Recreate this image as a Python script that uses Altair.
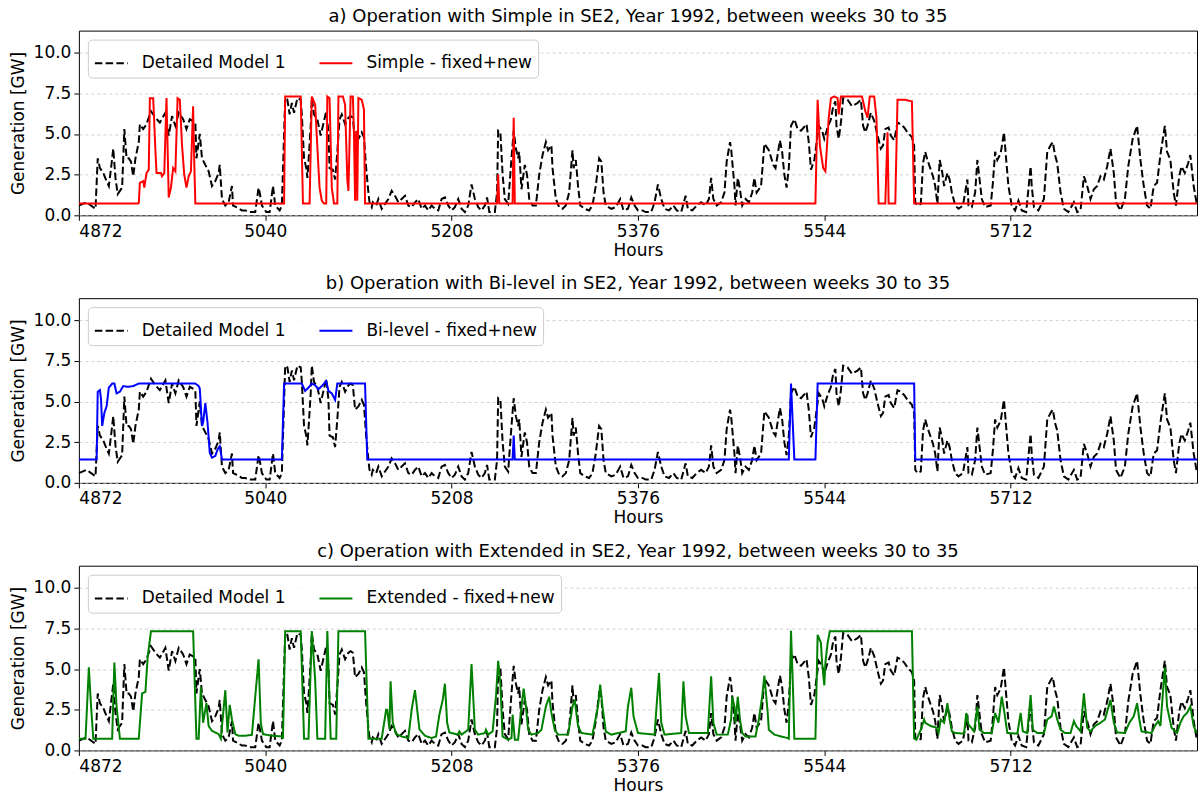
import altair as alt
import pandas as pd

FONT = "DejaVu Sans"
FS = 17
FS_TITLE = 18

X_RANGE = [4872, 5880]
Y_RANGE = [0, 11.35]
X_TICKS = [4872, 5040, 5208, 5376, 5544, 5712]
Y_TICKS = [0.0, 2.5, 5.0, 7.5, 10.0]

DETAILED_LABEL = "Detailed Model 1"

# Hourly generation [GW] of the detailed model, (hour, GW)
detailed = [
    (4872, 0.6), (4879, 0.8), (4887, 0.4), (4889, 3.5), (4891, 2.9), (4894, 2.6), (4897, 2.1),
    (4899, 1.8), (4901, 2.9), (4903, 4.1), (4905, 2.3), (4907, 1.3), (4909, 1.5), (4911, 1.7),
    (4913, 5.3), (4915, 3.5), (4917, 3.5), (4919, 3.3), (4921, 2.4), (4923, 3.5), (4926, 4.5),
    (4927, 5.6), (4930, 5.3), (4933, 5.6), (4937, 6.4), (4941, 6.0), (4945, 5.7), (4950, 6.3),
    (4953, 4.9), (4956, 6.1), (4959, 5.5), (4962, 6.3), (4966, 5.9), (4969, 5.3), (4972, 5.9),
    (4977, 5.7), (4978, 3.5), (4981, 5.0), (4983, 3.5), (4986, 3.1), (4989, 2.7), (4992, 1.8),
    (4995, 2.1), (4998, 2.6), (4999, 3.1), (5001, 1.0), (5004, 0.6), (5007, 0.8), (5010, 1.8),
    (5011, 0.6), (5014, 0.5), (5019, 0.3), (5022, 0.3), (5026, 0.2), (5031, 0.2), (5034, 1.7),
    (5035, 1.4), (5037, 0.6), (5041, 0.2), (5044, 0.2), (5047, 1.8), (5049, 0.6), (5053, 0.3),
    (5055, 0.6), (5058, 7.2), (5060, 7.1), (5062, 6.2), (5064, 6.9), (5066, 6.3), (5069, 7.2),
    (5072, 7.1), (5073, 6.2), (5075, 3.5), (5077, 2.9), (5078, 2.3), (5079, 3.3), (5081, 5.5),
    (5082, 7.2), (5084, 6.2), (5087, 5.9), (5090, 4.9), (5092, 5.5), (5095, 6.4), (5097, 5.1),
    (5098, 2.9), (5101, 2.8), (5103, 2.2), (5105, 3.9), (5107, 5.9), (5109, 6.2), (5112, 5.6),
    (5115, 6.0), (5117, 6.1), (5119, 6.0), (5121, 4.5), (5124, 4.7), (5127, 5.1), (5129, 4.8),
    (5131, 2.9), (5133, 1.4), (5134, 0.8), (5136, 0.5), (5137, 0.8), (5140, 0.6), (5142, 1.0),
    (5145, 0.4), (5148, 0.7), (5151, 1.0), (5154, 1.5), (5157, 1.2), (5160, 0.8), (5163, 1.0),
    (5166, 1.2), (5169, 0.6), (5172, 0.5), (5175, 0.8), (5178, 1.0), (5181, 0.4), (5184, 0.6),
    (5187, 0.3), (5190, 0.6), (5193, 0.4), (5196, 0.3), (5199, 1.0), (5202, 1.1), (5205, 0.6),
    (5208, 0.3), (5211, 0.5), (5214, 1.0), (5217, 0.4), (5220, 0.2), (5223, 0.6), (5226, 1.9),
    (5229, 1.0), (5232, 0.5), (5235, 0.3), (5238, 0.6), (5240, 1.1), (5242, 0.2), (5247, 0.2),
    (5249, 1.4), (5250, 5.2), (5252, 5.1), (5254, 2.5), (5256, 1.0), (5259, 0.7), (5262, 3.5),
    (5264, 5.2), (5266, 4.1), (5268, 3.5), (5269, 3.9), (5271, 1.6), (5274, 3.1), (5276, 2.5),
    (5278, 1.0), (5281, 0.6), (5284, 0.6), (5287, 2.5), (5290, 3.7), (5293, 4.5), (5295, 4.0),
    (5298, 4.3), (5299, 2.9), (5302, 1.0), (5305, 0.5), (5308, 0.4), (5311, 0.6), (5314, 1.4),
    (5317, 4.0), (5318, 2.9), (5320, 3.4), (5322, 1.8), (5324, 0.6), (5328, 0.4), (5332, 0.3),
    (5335, 0.6), (5338, 1.8), (5341, 3.5), (5343, 3.3), (5345, 1.4), (5347, 0.6), (5352, 0.4),
    (5356, 0.5), (5360, 1.0), (5363, 0.3), (5367, 0.4), (5370, 1.1), (5373, 0.6), (5376, 0.3),
    (5380, 0.3), (5383, 0.2), (5388, 0.2), (5391, 0.8), (5394, 1.9), (5397, 1.0), (5400, 0.4),
    (5404, 0.3), (5408, 0.6), (5411, 0.3), (5415, 0.2), (5419, 1.2), (5421, 0.4), (5425, 0.3),
    (5429, 0.6), (5433, 0.8), (5437, 0.6), (5440, 1.0), (5442, 2.3), (5444, 1.0), (5447, 0.6),
    (5451, 0.8), (5454, 1.4), (5456, 3.3), (5459, 4.5), (5460, 4.1), (5463, 1.8), (5464, 0.6),
    (5466, 2.3), (5468, 1.6), (5470, 0.6), (5473, 1.0), (5476, 0.8), (5479, 1.4), (5481, 2.3),
    (5483, 1.4), (5487, 1.8), (5490, 4.4), (5494, 4.0), (5498, 3.1), (5500, 2.9), (5504, 4.6),
    (5506, 3.9), (5508, 2.5), (5510, 1.7), (5512, 2.9), (5514, 5.5), (5517, 5.9), (5520, 5.3),
    (5523, 5.2), (5528, 5.6), (5530, 4.5), (5532, 2.8), (5535, 3.4), (5536, 3.9), (5539, 5.5),
    (5542, 5.2), (5544, 4.7), (5547, 5.4), (5550, 5.9), (5552, 6.7), (5554, 7.0), (5555, 5.5),
    (5557, 4.7), (5559, 5.7), (5561, 7.2), (5565, 7.1), (5569, 6.7), (5574, 6.9), (5577, 7.1),
    (5579, 5.5), (5581, 5.1), (5583, 5.5), (5586, 6.3), (5589, 5.8), (5592, 4.9), (5595, 4.1),
    (5597, 4.3), (5599, 5.3), (5602, 5.4), (5604, 4.9), (5607, 4.6), (5610, 5.7), (5613, 5.6),
    (5616, 5.4), (5619, 5.1), (5623, 4.8), (5625, 4.3), (5626, 0.8), (5628, 0.6), (5631, 0.7),
    (5633, 3.2), (5635, 3.9), (5637, 3.4), (5640, 2.8), (5642, 2.4), (5644, 1.8), (5646, 0.7),
    (5648, 3.4), (5650, 2.8), (5652, 1.8), (5655, 2.6), (5657, 2.2), (5659, 1.4), (5662, 0.6),
    (5665, 0.4), (5669, 0.6), (5673, 2.2), (5674, 0.6), (5677, 0.5), (5680, 1.4), (5682, 3.4),
    (5684, 2.2), (5686, 1.0), (5689, 0.5), (5694, 0.6), (5696, 2.0), (5698, 3.9), (5700, 3.4),
    (5703, 3.8), (5706, 5.1), (5708, 3.4), (5710, 1.8), (5713, 0.6), (5716, 0.3), (5719, 0.9),
    (5722, 0.3), (5726, 0.2), (5730, 3.0), (5731, 1.8), (5733, 0.5), (5737, 0.3), (5742, 1.0),
    (5745, 3.9), (5748, 4.3), (5750, 4.5), (5752, 3.7), (5754, 3.2), (5757, 1.4), (5760, 0.4),
    (5764, 0.2), (5769, 0.8), (5772, 0.2), (5775, 0.3), (5778, 2.4), (5781, 1.8), (5784, 1.0),
    (5787, 1.6), (5790, 1.8), (5793, 2.4), (5796, 2.2), (5799, 3.0), (5802, 4.1), (5805, 2.6),
    (5807, 0.8), (5811, 0.3), (5815, 1.0), (5818, 3.0), (5822, 4.7), (5826, 5.5), (5829, 3.4),
    (5832, 1.8), (5835, 0.6), (5838, 0.4), (5841, 1.8), (5844, 2.0), (5847, 3.7), (5851, 5.5),
    (5853, 3.9), (5856, 3.4), (5859, 1.4), (5861, 0.6), (5864, 2.4), (5866, 3.0), (5869, 2.6),
    (5872, 3.2), (5874, 3.7), (5877, 1.8), (5880, 0.6),
]

# Simple model, fixed + new capacity
simple = [
    (4872, 0.72), (4926, 0.72), (4927, 2.0), (4930, 2.1), (4931, 1.7), (4933, 2.6), (4935, 2.8),
    (4936, 7.2), (4939, 7.2), (4941, 4.0), (4942, 2.6), (4946, 2.6), (4947, 2.4), (4949, 2.6),
    (4951, 7.2), (4953, 1.1), (4955, 1.7), (4957, 2.9), (4959, 2.7), (4961, 7.2), (4963, 7.1),
    (4965, 4.3), (4967, 2.5), (4969, 1.7), (4971, 2.4), (4973, 2.7), (4975, 6.7), (4976, 3.3),
    (4977, 0.72), (5057, 0.72), (5058, 7.3), (5072, 7.3), (5074, 0.72), (5080, 0.72), (5082, 7.3),
    (5085, 6.8), (5088, 2.9), (5089, 1.7), (5091, 0.9), (5093, 0.72), (5095, 0.72), (5096, 7.3),
    (5098, 7.2), (5100, 1.7), (5102, 0.72), (5105, 0.72), (5106, 7.3), (5110, 7.3), (5112, 6.8),
    (5114, 2.2), (5115, 1.5), (5117, 7.3), (5119, 7.3), (5120, 5.0), (5121, 0.9), (5122, 5.2),
    (5123, 0.9), (5124, 7.2), (5127, 7.1), (5129, 6.5), (5130, 0.72), (5249, 0.72), (5250, 2.5),
    (5251, 0.72), (5263, 0.72), (5264, 6.0), (5265, 0.72), (5536, 0.72), (5538, 7.1), (5540, 4.3),
    (5543, 2.9), (5545, 2.7), (5548, 6.0), (5550, 7.2), (5553, 7.3), (5556, 7.2), (5557, 6.2),
    (5559, 7.3), (5578, 7.3), (5581, 6.4), (5583, 6.0), (5585, 7.3), (5589, 7.3), (5591, 6.0),
    (5593, 0.72), (5599, 0.72), (5601, 5.1), (5602, 0.72), (5608, 0.72), (5610, 7.1), (5617, 7.1),
    (5623, 7.0), (5625, 0.72), (5880, 0.72),
]

# Bi-level model, fixed + new capacity
bilevel = [
    (4872, 1.44), (4888, 1.44), (4889, 5.6), (4891, 5.7), (4892, 5.1), (4893, 3.5), (4895, 4.3),
    (4897, 4.7), (4899, 5.85), (4902, 6.1), (4904, 6.1), (4906, 5.5), (4909, 5.6), (4912, 5.95),
    (4916, 5.9), (4921, 5.95), (4926, 6.1), (4977, 6.1), (4980, 5.95), (4981, 5.8), (4983, 3.5),
    (4984, 3.7), (4986, 4.9), (4988, 3.7), (4990, 1.85), (4992, 1.55), (4995, 1.65), (4997, 2.05),
    (4999, 2.25), (5001, 1.44), (5055, 1.44), (5057, 6.1), (5073, 6.1), (5076, 5.65), (5079, 5.85),
    (5082, 6.1), (5085, 6.0), (5088, 5.75), (5091, 5.95), (5095, 6.25), (5097, 5.65), (5100, 5.5),
    (5103, 5.1), (5105, 6.1), (5130, 6.1), (5132, 1.44), (5263, 1.44), (5264, 2.9), (5265, 1.44),
    (5512, 1.44), (5514, 6.1), (5517, 1.44), (5536, 1.44), (5538, 6.1), (5625, 6.1), (5626, 1.44),
    (5880, 1.44),
]

# Extended model, fixed + new capacity
extended = [
    (4872, 0.72), (4878, 0.72), (4881, 5.1), (4883, 2.7), (4885, 0.72), (4902, 0.72), (4904, 5.4),
    (4906, 2.7), (4908, 1.4), (4909, 0.72), (4926, 0.72), (4929, 3.5), (4932, 3.6), (4934, 5.7),
    (4937, 7.33), (4975, 7.33), (4978, 0.72), (4980, 0.72), (4982, 3.9), (4984, 1.7), (4987, 2.9),
    (4989, 1.5), (4992, 1.2), (4998, 1.0), (5000, 0.72), (5004, 3.7), (5006, 1.1), (5008, 2.8),
    (5010, 1.9), (5013, 1.0), (5016, 0.9), (5022, 0.9), (5028, 0.96), (5031, 3.3), (5034, 5.6),
    (5036, 1.7), (5038, 1.0), (5046, 0.9), (5055, 0.86), (5056, 0.72), (5058, 7.33), (5072, 7.33),
    (5075, 0.72), (5079, 0.72), (5082, 7.33), (5085, 4.35), (5087, 0.72), (5094, 0.72), (5096, 7.33),
    (5099, 0.72), (5104, 0.72), (5106, 7.33), (5130, 7.33), (5133, 0.72), (5145, 0.72), (5149, 2.5),
    (5150, 2.5), (5152, 1.3), (5153, 4.25), (5155, 1.7), (5158, 1.0), (5163, 0.86), (5169, 0.76),
    (5172, 2.5), (5175, 3.7), (5177, 2.5), (5179, 1.3), (5184, 0.9), (5190, 0.76), (5194, 0.86),
    (5197, 2.2), (5200, 3.1), (5202, 4.1), (5204, 1.7), (5206, 1.1), (5208, 1.07), (5214, 0.97),
    (5215, 1.17), (5217, 0.97), (5223, 1.27), (5226, 5.3), (5229, 1.27), (5232, 0.97), (5238, 1.07),
    (5239, 1.27), (5241, 0.97), (5245, 1.17), (5248, 3.3), (5250, 5.5), (5252, 4.1), (5254, 0.86),
    (5259, 0.66), (5262, 0.76), (5263, 2.2), (5265, 0.66), (5268, 0.66), (5271, 2.7), (5273, 3.8),
    (5275, 2.7), (5277, 1.27), (5280, 0.97), (5286, 1.07), (5289, 1.27), (5293, 2.7), (5296, 3.3),
    (5298, 2.3), (5301, 1.27), (5304, 0.97), (5313, 0.97), (5317, 2.7), (5319, 3.1), (5322, 1.5),
    (5325, 1.07), (5335, 0.97), (5340, 2.7), (5342, 4.05), (5344, 2.7), (5347, 1.17), (5352, 0.97),
    (5365, 1.17), (5367, 2.7), (5370, 3.85), (5372, 2.1), (5376, 1.07), (5391, 0.97), (5393, 2.9),
    (5395, 4.75), (5397, 1.7), (5400, 0.97), (5415, 1.07), (5417, 4.25), (5419, 2.1), (5422, 1.07),
    (5439, 1.07), (5442, 4.55), (5444, 1.7), (5447, 0.97), (5457, 0.97), (5460, 1.9), (5461, 3.3),
    (5463, 2.7), (5464, 1.7), (5466, 3.3), (5468, 1.9), (5470, 1.07), (5473, 0.86), (5482, 0.86),
    (5485, 1.9), (5488, 3.3), (5490, 4.6), (5493, 2.3), (5494, 1.27), (5499, 0.97), (5505, 0.86),
    (5511, 0.76), (5512, 0.72), (5514, 7.35), (5516, 3.3), (5517, 0.72), (5536, 0.72), (5538, 7.1),
    (5541, 6.6), (5542, 5.4), (5544, 4.0), (5545, 5.4), (5547, 6.6), (5549, 7.33), (5623, 7.33),
    (5625, 0.72), (5627, 0.66), (5631, 1.27), (5634, 1.9), (5635, 1.7), (5640, 1.5), (5645, 1.4),
    (5647, 1.07), (5649, 1.9), (5652, 1.7), (5655, 2.9), (5657, 1.9), (5659, 1.17), (5662, 1.07),
    (5670, 1.03), (5672, 2.3), (5674, 1.6), (5679, 1.17), (5682, 2.7), (5684, 1.27), (5688, 1.07),
    (5695, 1.07), (5698, 2.3), (5701, 1.7), (5704, 3.3), (5706, 2.5), (5709, 1.07), (5718, 1.03),
    (5721, 2.3), (5723, 1.17), (5727, 1.07), (5730, 3.4), (5732, 1.27), (5736, 1.07), (5742, 1.07),
    (5745, 1.9), (5749, 2.1), (5751, 2.7), (5754, 1.9), (5757, 1.27), (5761, 1.07), (5766, 1.07),
    (5769, 1.8), (5771, 1.5), (5775, 1.17), (5778, 3.5), (5781, 1.4), (5784, 1.17), (5788, 1.5),
    (5793, 1.7), (5797, 1.9), (5802, 3.1), (5805, 1.7), (5808, 1.1), (5815, 1.07), (5819, 1.7),
    (5823, 2.1), (5826, 2.9), (5828, 1.9), (5830, 1.17), (5839, 1.07), (5842, 1.5), (5845, 1.8),
    (5847, 1.5), (5851, 5.1), (5853, 2.7), (5857, 1.4), (5862, 1.07), (5865, 1.7), (5868, 2.1),
    (5871, 2.3), (5874, 2.7), (5877, 1.5), (5880, 1.05),
]

PANELS = [
    ("a", "Simple", "#ff0000", simple),
    ("b", "Bi-level", "#0000ff", bilevel),
    ("c", "Extended", "#008000", extended),
]


def panel(letter, model, color, points):
    label = f"{model} - fixed+new"
    rows = [{"hour": h, "gen": g, "series": DETAILED_LABEL} for h, g in detailed]
    rows += [{"hour": h, "gen": g, "series": label} for h, g in points]
    df = pd.DataFrame(rows)
    domain = [DETAILED_LABEL, label]

    legend = alt.Legend(
        title=None,
        orient="top-left",
        direction="horizontal",
        offset=9,
        padding=6,
        fillColor="rgba(255,255,255,0.85)",
        strokeColor="#cccccc",
        cornerRadius=4,
        symbolType="stroke",
        symbolSize=1089,
        symbolStrokeWidth=2,
        labelOffset=13,
        columnPadding=30,
        labelFont=FONT,
        labelFontSize=FS,
        labelColor="black",
        labelLimit=400,
    )

    return (
        alt.Chart(df)
        .mark_line(strokeWidth=2, clip=True)
        .encode(
            x=alt.X(
                "hour:Q",
                scale=alt.Scale(domain=X_RANGE, nice=False, zero=False),
                axis=alt.Axis(values=X_TICKS, format="d", title="Hours", grid=False,
                              labelPadding=3, titlePadding=3),
            ),
            y=alt.Y(
                "gen:Q",
                scale=alt.Scale(domain=Y_RANGE, nice=False),
                axis=alt.Axis(values=Y_TICKS, format=".1f", title="Generation [GW]",
                              grid=True, gridDash=[3, 3], gridColor="#c4c4c4", gridWidth=0.8,
                              labelPadding=3, titlePadding=6),
            ),
            color=alt.Color("series:N", scale=alt.Scale(domain=domain, range=["#000000", color]),
                            legend=legend),
            strokeDash=alt.StrokeDash("series:N",
                                      scale=alt.Scale(domain=domain, range=[[7.5, 3.3], [1, 0]]),
                                      legend=legend),
        )
        .properties(
            width=1120,
            height=185,
            title=alt.TitleParams(
                f"{letter}) Operation with {model} in SE2, Year 1992, between weeks 30 to 35"
            ),
        )
    )


chart = (
    alt.vconcat(*[panel(*p) for p in PANELS], spacing=15)
    .resolve_scale(color="independent", strokeDash="independent")
    .resolve_legend(color="independent", strokeDash="independent")
    .properties(padding={"left": 8, "top": 6, "right": 0, "bottom": 0})
    .configure_view(stroke="#000000", strokeWidth=1)
    .configure_axis(
        labelFont=FONT, titleFont=FONT, labelFontSize=FS, titleFontSize=FS,
        labelColor="black", titleColor="black", titleFontWeight="normal",
        tickColor="black", tickSize=5, tickWidth=1, domain=False,
    )
    .configure_title(font=FONT, fontSize=FS_TITLE, fontWeight="normal", color="black",
                     anchor="middle", offset=5)
)

chart.save("out.html", embed_options={"renderer": "svg", "actions": False})
